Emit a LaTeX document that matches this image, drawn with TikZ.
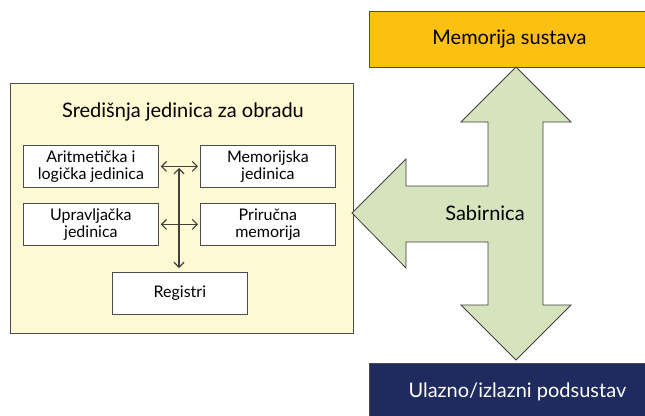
\documentclass[tikz,border=0pt]{standalone}
\usepackage{fontspec}
\setmainfont{Lato}
\usetikzlibrary{arrows.meta}
\usetikzlibrary{positioning}
\tikzset{unit/.style = {draw=black!70, fill=white, line width=0.8pt,
                        minimum width=135pt, minimum height=42pt,
                        align=center, font=\fontsize{16}{17.5}\selectfont,
                        inner sep=0pt},
         big/.style = {font=\fontsize{20}{20}\selectfont},
         link/.style = {black!75, line width=1.1pt,
                        {Straight Barb[length=5pt,width=10pt]}-{Straight Barb[length=5pt,width=10pt]}}}
\definecolor{cpuyellow}{HTML}{FDF9D2}
\definecolor{busgreen}{HTML}{D6E4BE}
\definecolor{memorange}{HTML}{FCC012}
\definecolor{ionavy}{HTML}{1F2A5E}

\begin{document}
\begin{tikzpicture}[x=1pt, y=-1pt]
      \useasboundingbox (0, 0) rectangle (645, 415);

      % central processing unit
      \draw [fill=cpuyellow, draw=black!70, line width=0.8pt] (10, 83) rectangle (353, 333);
      \node (title) [big] at (183, 112) {Središnja jedinica za obradu};

      \node (alu) [unit, anchor=north west] at (23, 145) {Aritmetička i\\logička jedinica};
      \node (mem) [unit, anchor=north west] at (200, 145) {Memorijska\\jedinica};
      \node (cu)  [unit, anchor=north west] at (23, 203) {Upravljačka\\jedinica};
      \node (cache) [unit, anchor=north west] at (200, 203) {Priručna\\memorija};
      \node (reg) [unit, anchor=north west] at (112, 272) {Registri};

      \draw [link, shorten <=2pt, shorten >=2pt] (alu.east) -- (mem.west);
      \draw [link, shorten <=2pt, shorten >=2pt] (cu.east) -- (cache.west);
      \coordinate (vtop) at (179, 168);
      \draw [link, shorten >=4pt] (vtop) -- (vtop |- reg.north);

      % system memory and I/O
      \node (sysmem) [big, draw=black!70, fill=memorange, line width=0.8pt, anchor=north west,
                      minimum width=280pt, minimum height=56pt] at (369, 11) {Memorija sustava};
      \node (io) [big, draw=black!70, fill=ionavy, text=white, line width=0.8pt, anchor=north west,
                  minimum width=280pt, minimum height=56pt] at (369, 363) {\hspace*{16pt}Ulazno/izlazni podsustav};

      % bus
      \draw [fill=busgreen, draw=black!75, line width=0.8pt]
            (516, 67) -- (571, 122) -- (543, 122) -- (543, 305) -- (571, 305) -- (516, 360)
            -- (461, 305) -- (488, 305) -- (488, 242) -- (406, 242) -- (406, 268) -- (352, 213)
            -- (406, 159) -- (406, 186) -- (488, 186) -- (488, 122) -- (461, 122) -- cycle;
      \node (bus) [big] at (485, 213) {Sabirnica};
\end{tikzpicture}
\end{document}
